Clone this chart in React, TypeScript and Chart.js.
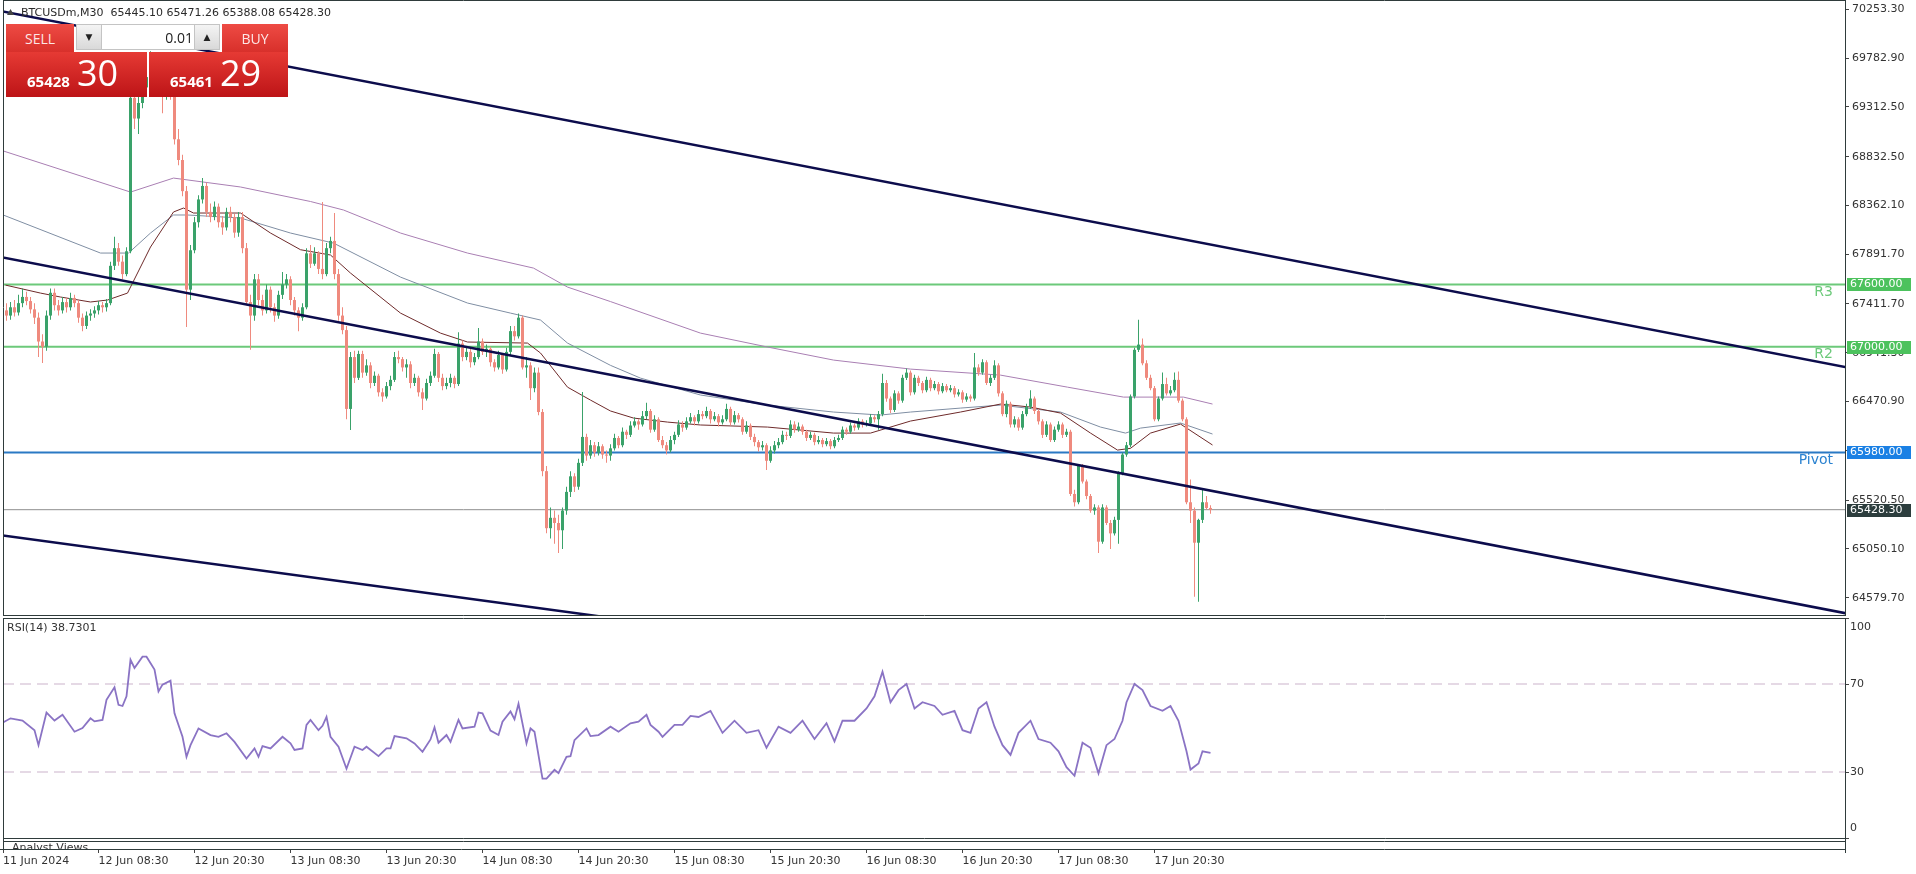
import React, { useEffect, useRef } from "react";
import { Chart, registerables } from "chart.js";

Chart.register(...registerables);
Chart.defaults.font.family = "DejaVu Sans";
Chart.defaults.font.size = 11;

// ---------------- data ----------------
const symbolTitle = "BTCUSDm,M30";
const ohlcHeader = [65445.1, 65471.26, 65388.08, 65428.3];

// [open, high, low, close] per M30 bar
const candles: number[][] = [
  [67350, 67420, 67250, 67300], [67300, 67430, 67260, 67380], [67380, 67450, 67290, 67330], [67330, 67500, 67300, 67420],
  [67420, 67560, 67380, 67480], [67480, 67530, 67400, 67440], [67440, 67480, 67320, 67360], [67360, 67420, 67220, 67280],
  [67280, 67330, 66900, 67050], [67050, 67120, 66843, 67000], [67000, 67350, 66960, 67300], [67300, 67560, 67260, 67520],
  [67520, 67560, 67350, 67400], [67400, 67450, 67300, 67350], [67350, 67480, 67320, 67430], [67430, 67470, 67330, 67380],
  [67380, 67520, 67350, 67470], [67470, 67500, 67380, 67420], [67420, 67450, 67230, 67280], [67280, 67320, 67150, 67200],
  [67200, 67340, 67170, 67300], [67300, 67360, 67250, 67320], [67320, 67390, 67280, 67350], [67350, 67440, 67310, 67400],
  [67400, 67430, 67330, 67380], [67380, 67460, 67340, 67420], [67420, 67820, 67400, 67780], [67780, 68060, 67740, 67950],
  [67950, 68000, 67780, 67820], [67820, 67880, 67650, 67700], [67700, 67960, 67680, 67920], [67920, 69550, 67900, 69400],
  [69400, 69620, 69100, 69200], [69200, 69420, 69050, 69350], [69350, 69580, 69300, 69500], [69500, 69720, 69450, 69600],
  [69600, 69850, 69550, 69750], [69750, 69800, 69600, 69680], [69680, 69720, 69480, 69550], [69550, 69600, 69250, 69450],
  [69450, 69580, 69380, 69500], [69500, 69560, 69380, 69450], [69450, 69600, 68950, 69000], [69000, 69100, 68750, 68800],
  [68800, 68850, 68450, 68500], [68500, 68550, 67190, 67550], [67550, 67980, 67450, 67930], [67930, 68250, 67900, 68200],
  [68200, 68460, 68150, 68420], [68420, 68626, 68380, 68550], [68550, 68580, 68250, 68300], [68300, 68380, 68200, 68250],
  [68250, 68400, 68220, 68350], [68350, 68380, 68150, 68200], [68200, 68260, 68080, 68150], [68150, 68340, 68120, 68300],
  [68300, 68350, 68200, 68250], [68250, 68280, 68050, 68100], [68100, 68300, 68060, 68250], [68250, 68300, 67900, 67950],
  [67950, 68000, 67400, 67430], [67430, 67500, 66970, 67300], [67300, 67700, 67250, 67650], [67650, 67700, 67400, 67450],
  [67450, 67500, 67300, 67350], [67350, 67600, 67320, 67550], [67550, 67580, 67330, 67380], [67380, 67420, 67240, 67300],
  [67300, 67540, 67270, 67500], [67500, 67720, 67460, 67600], [67600, 67700, 67560, 67650], [67650, 67680, 67400, 67450],
  [67450, 67480, 67300, 67350], [67350, 67380, 67150, 67280], [67280, 67420, 67250, 67380], [67380, 67950, 67360, 67900],
  [67900, 67980, 67760, 67800], [67800, 67960, 67780, 67900], [67900, 67920, 67700, 67750], [67750, 68395, 67650, 67700],
  [67700, 68000, 67680, 67950], [67950, 68060, 67900, 68020], [68020, 68290, 67650, 67700], [67700, 67750, 67250, 67300],
  [67300, 67380, 67120, 67160], [67160, 67200, 66300, 66400], [66400, 66950, 66196, 66900], [66900, 66960, 66650, 66700],
  [66700, 66960, 66680, 66930], [66930, 66960, 66700, 66750], [66750, 66880, 66720, 66820], [66820, 66850, 66600, 66650],
  [66650, 66760, 66620, 66720], [66720, 66740, 66520, 66560], [66560, 66600, 66470, 66520], [66520, 66660, 66500, 66620],
  [66620, 66720, 66580, 66680], [66680, 66950, 66660, 66900], [66900, 66960, 66840, 66880], [66880, 66900, 66760, 66800],
  [66800, 66880, 66700, 66830], [66830, 66860, 66600, 66650], [66650, 66740, 66620, 66700], [66700, 66720, 66520, 66560],
  [66560, 66600, 66389, 66500], [66500, 66690, 66480, 66650], [66650, 66760, 66620, 66720], [66720, 66980, 66700, 66930],
  [66930, 66950, 66660, 66700], [66700, 66740, 66580, 66620], [66620, 66700, 66590, 66650], [66650, 66740, 66610, 66700],
  [66700, 66720, 66600, 66640], [66640, 67140, 66620, 67030], [67030, 67060, 66860, 66900], [66900, 66990, 66870, 66950],
  [66950, 66980, 66800, 66850], [66850, 66940, 66820, 66900], [66900, 67180, 66880, 67050], [67050, 67080, 66920, 66950],
  [66950, 67020, 66900, 66980], [66980, 67000, 66810, 66850], [66850, 66880, 66760, 66800], [66800, 66960, 66780, 66920],
  [66920, 66940, 66740, 66780], [66780, 66990, 66760, 66950], [66950, 67200, 66920, 67150], [67150, 67200, 67060, 67100],
  [67100, 67320, 67080, 67280], [67280, 67300, 66780, 66800], [66800, 66900, 66700, 66820], [66820, 66850, 66485, 66600],
  [66600, 66800, 66560, 66750], [66750, 66800, 66340, 66370], [66370, 66400, 65750, 65800], [65800, 65850, 65200, 65250],
  [65250, 65450, 65150, 65350], [65350, 65420, 65100, 65300], [65300, 65380, 65010, 65230], [65230, 65450, 65050, 65420],
  [65420, 65650, 65380, 65600], [65600, 65800, 65550, 65750], [65750, 65780, 65600, 65650], [65650, 65920, 65620, 65880],
  [65880, 66563, 65850, 66130], [66130, 66160, 65900, 65950], [65950, 66100, 65920, 66050], [66050, 66080, 65940, 65980],
  [65980, 66080, 65950, 66040], [66040, 66060, 65920, 65960], [65960, 66000, 65880, 65950], [65950, 66060, 65900, 66020],
  [66020, 66160, 66000, 66120], [66120, 66140, 66020, 66050], [66050, 66220, 66030, 66180], [66180, 66200, 66110, 66150],
  [66150, 66280, 66130, 66240], [66240, 66320, 66220, 66280], [66280, 66300, 66200, 66250], [66250, 66380, 66230, 66330],
  [66330, 66460, 66300, 66380], [66380, 66400, 66170, 66200], [66200, 66340, 66180, 66300], [66300, 66320, 66080, 66100],
  [66100, 66140, 66020, 66050], [66050, 66080, 65960, 66000], [66000, 66140, 65980, 66100], [66100, 66180, 66060, 66150],
  [66150, 66290, 66130, 66250], [66250, 66280, 66180, 66220], [66220, 66320, 66200, 66280], [66280, 66360, 66260, 66320],
  [66320, 66340, 66240, 66280], [66280, 66390, 66260, 66350], [66350, 66380, 66300, 66330], [66330, 66420, 66310, 66380],
  [66380, 66400, 66260, 66300], [66300, 66370, 66280, 66330], [66330, 66350, 66230, 66270], [66270, 66340, 66250, 66300],
  [66300, 66450, 66280, 66400], [66400, 66420, 66240, 66270], [66270, 66380, 66250, 66340], [66340, 66360, 66270, 66300],
  [66300, 66320, 66150, 66180], [66180, 66280, 66160, 66240], [66240, 66260, 66100, 66130], [66130, 66160, 66040, 66080],
  [66080, 66100, 65990, 66030], [66030, 66090, 66000, 66050], [66050, 66070, 65810, 65900], [65900, 66040, 65880, 66000],
  [66000, 66090, 65970, 66050], [66050, 66120, 66020, 66080], [66080, 66190, 66060, 66150], [66150, 66180, 66100, 66140],
  [66140, 66290, 66120, 66250], [66250, 66280, 66170, 66200], [66200, 66270, 66180, 66230], [66230, 66250, 66150, 66180],
  [66180, 66200, 66090, 66120], [66120, 66180, 66100, 66150], [66150, 66170, 66050, 66080], [66080, 66140, 66060, 66100],
  [66100, 66120, 66030, 66060], [66060, 66120, 66040, 66090], [66090, 66110, 66010, 66040], [66040, 66130, 66020, 66100],
  [66100, 66150, 66080, 66120], [66120, 66230, 66100, 66200], [66200, 66220, 66150, 66180], [66180, 66270, 66160, 66240],
  [66240, 66260, 66190, 66220], [66220, 66310, 66200, 66280], [66280, 66300, 66220, 66250], [66250, 66290, 66230, 66260],
  [66260, 66350, 66240, 66320], [66320, 66340, 66270, 66300], [66300, 66380, 66200, 66350], [66350, 66740, 66330, 66650],
  [66650, 66680, 66470, 66500], [66500, 66520, 66360, 66390], [66390, 66580, 66370, 66550], [66550, 66570, 66450, 66480],
  [66480, 66730, 66460, 66700], [66700, 66790, 66680, 66750], [66750, 66770, 66530, 66560], [66560, 66730, 66540, 66700],
  [66700, 66720, 66620, 66650], [66650, 66670, 66550, 66580], [66580, 66710, 66560, 66680], [66680, 66700, 66570, 66600],
  [66600, 66670, 66580, 66640], [66640, 66660, 66540, 66570], [66570, 66650, 66550, 66620], [66620, 66640, 66560, 66580],
  [66580, 66630, 66560, 66600], [66600, 66620, 66510, 66540], [66540, 66590, 66520, 66560], [66560, 66580, 66460, 66490],
  [66490, 66550, 66470, 66520], [66520, 66540, 66470, 66500], [66500, 66940, 66480, 66800], [66800, 66830, 66720, 66750],
  [66750, 66880, 66730, 66850], [66850, 66870, 66630, 66650], [66650, 66730, 66620, 66700], [66700, 66870, 66680, 66820],
  [66820, 66840, 66520, 66550], [66550, 66570, 66330, 66350], [66350, 66480, 66320, 66450], [66450, 66470, 66220, 66250],
  [66250, 66330, 66220, 66300], [66300, 66320, 66190, 66220], [66220, 66380, 66200, 66350], [66350, 66450, 66330, 66420],
  [66420, 66580, 66400, 66500], [66500, 66520, 66350, 66380], [66380, 66400, 66250, 66280], [66280, 66300, 66120, 66150],
  [66150, 66280, 66130, 66250], [66250, 66270, 66080, 66100], [66100, 66230, 66080, 66200], [66200, 66280, 66180, 66250],
  [66250, 66270, 66120, 66150], [66150, 66210, 66130, 66180], [66180, 66200, 65560, 65580], [65580, 65620, 65460, 65500],
  [65500, 65870, 65480, 65850], [65850, 65870, 65680, 65700], [65700, 65720, 65530, 65560], [65560, 65580, 65400, 65420],
  [65420, 65480, 65380, 65450], [65450, 65470, 65010, 65120], [65120, 65480, 65100, 65450], [65450, 65470, 65280, 65300],
  [65300, 65330, 65050, 65200], [65200, 65360, 65180, 65330], [65330, 65800, 65100, 65780], [65780, 65980, 65760, 65960],
  [65960, 66080, 65940, 66050], [66050, 66540, 66030, 66520], [66520, 66990, 66500, 66970], [66970, 67260, 66950, 67020],
  [67020, 67080, 66820, 66840], [66840, 66870, 66680, 66700], [66700, 66730, 66580, 66600], [66600, 66620, 66280, 66300],
  [66300, 66520, 66280, 66500], [66500, 66750, 66480, 66640], [66640, 66700, 66530, 66550], [66550, 66620, 66530, 66580],
  [66580, 66750, 66560, 66680], [66680, 66760, 66460, 66480], [66480, 66500, 66280, 66300], [66300, 66320, 65480, 65500],
  [65500, 65720, 65300, 65420], [65420, 65450, 64590, 65110], [65110, 65340, 64540, 65330], [65330, 65620, 65300, 65500],
  [65500, 65560, 65430, 65445], [65445.1, 65471.26, 65388.08, 65428.3],
];

const priceTicks = [70253.3, 69782.9, 69312.5, 68832.5, 68362.1, 67891.7, 67411.7, 66941.3, 66470.9, 65995.7, 65520.5, 65050.1, 64579.7];

const timeTickIdx = [-0.875, 23, 47, 71, 95, 119, 143, 167, 191, 215, 239, 263, 287];
const timeTickLabels = [
  "11 Jun 2024", "12 Jun 08:30", "12 Jun 20:30", "13 Jun 08:30", "13 Jun 20:30", "14 Jun 08:30", "14 Jun 20:30",
  "15 Jun 08:30", "15 Jun 20:30", "16 Jun 08:30", "16 Jun 20:30", "17 Jun 08:30", "17 Jun 20:30",
];

// moving averages, sampled along the bars
const fastMAIdx = [-0.25, 8.5, 13.5, 21, 25.25, 30.25, 36, 41.75, 44.25, 46.75, 58.5, 66, 73.5, 81, 86, 98.5, 108.5, 115.25, 130.25, 133.5, 140.25, 146, 151, 156.75, 165.25, 173.5, 190.25, 206.75, 216, 226, 238.5, 248.5, 256, 263.5, 271, 277.75, 281, 286, 293.5, 301.5];
const fastMA = [67594, 67517, 67479, 67431, 67450, 67517, 67961, 68299, 68337, 68289, 68289, 68096, 67935, 67884, 67710, 67324, 67131, 67045, 67035, 66939, 66610, 66485, 66380, 66312, 66273, 66245, 66225, 66167, 66167, 66283, 66370, 66447, 66418, 66360, 66167, 66003, 66020, 66167, 66254, 66052];

const midMAIdx = [-1.5, 23.5, 30.5, 36, 41.75, 45.25, 58.5, 71, 81.75, 98.5, 115.25, 126, 133.5, 140.25, 151, 158.5, 173.5, 190.25, 206.75, 218.5, 226, 238.5, 248.5, 263.5, 273.5, 279.75, 283.5, 293.5, 301.5];
const midMA = [68280, 67903, 67903, 68096, 68270, 68270, 68241, 68096, 67999, 67671, 67421, 67324, 67257, 67035, 66820, 66697, 66534, 66437, 66370, 66341, 66370, 66408, 66437, 66370, 66225, 66167, 66215, 66264, 66158];

const slowMAIdx = [-1.5, 31, 41.75, 58.5, 76, 84.25, 98.5, 115.25, 131.75, 140.25, 151, 173.5, 190.25, 206.75, 226, 248.5, 265.25, 279.25, 294.25, 301.5];
const slowMA = [68896, 68491, 68626, 68540, 68400, 68318, 68096, 67903, 67758, 67575, 67435, 67131, 66997, 66871, 66784, 66726, 66610, 66514, 66514, 66447];

// trendlines (two anchor points each)
const trendIdx = [-2, 460];
const trendUpper = [70241, 66801];
const trendMiddle = [67868, 64428];
const trendLower = [65186, 62769];

const levelNames = ["R3", "R2", "Pivot"];
const levelPrices = [67600, 67000, 65980];
const lastPrice = 65428.3;

const rsiIdx = [-1, 1, 4, 7, 8, 10, 12, 14, 17, 19, 21, 22, 24, 25, 27, 28, 29, 30, 31, 32, 34, 35, 37, 38, 39, 41, 42, 44, 45, 46, 48, 51, 53, 55, 57, 60, 62, 63, 64, 66, 69, 71, 72, 74, 75, 76, 78, 79, 80, 81, 83, 85, 87, 89, 90, 93, 95, 96, 97, 100, 102, 104, 106, 107, 108, 110, 111, 113, 114, 117, 118, 119, 121, 123, 124, 126, 127, 128, 130, 131, 132, 134, 135, 137, 138, 140, 141, 142, 145, 146, 148, 151, 153, 156, 158, 160, 161, 163, 164, 167, 169, 171, 173, 176, 179, 182, 185, 188, 190, 193, 196, 199, 202, 205, 207, 209, 212, 215, 217, 219, 221, 223, 225, 227, 229, 232, 234, 237, 239, 241, 243, 245, 247, 249, 251, 253, 256, 258, 261, 263, 265, 267, 269, 271, 273, 275, 277, 279, 280, 282, 284, 286, 289, 291, 293, 295, 296, 298, 299, 301];
const rsiVal = [52.4, 54.4, 53.4, 49, 42.2, 57, 53.4, 56, 48.3, 50, 54.4, 53, 53.7, 62.8, 68.5, 60.5, 60, 64.4, 81, 77.3, 82.4, 82.4, 76.6, 66.6, 69.7, 71.5, 56.7, 46, 36.9, 42.2, 49.8, 46.8, 46, 47.6, 43.7, 36.1, 40.7, 36.9, 41.8, 40.7, 46, 43, 40, 40.7, 51.4, 53.7, 49, 51, 55, 46, 41.5, 31.5, 41.5, 40, 41.5, 37.2, 40.7, 40.7, 46.3, 45.3, 43, 39.2, 44.8, 50.3, 43.3, 46.8, 43.7, 53.7, 49.8, 50.6, 57, 56.7, 48.8, 46.8, 52.9, 57.5, 54, 61, 43, 49.8, 48.3, 27, 27, 31, 29.5, 36.9, 37.2, 44.5, 49.8, 46.3, 46.8, 50.6, 48.3, 52.1, 52.9, 56, 51.4, 48.3, 46, 51.4, 51.4, 55.5, 55, 57.8, 47.8, 53.3, 47.8, 49, 41, 50.6, 47.8, 53.3, 45, 52.2, 43.9, 53.3, 53.3, 58.9, 64.4, 75.6, 61.7, 67.2, 70, 58.9, 61.7, 60, 56, 57.8, 49, 47.8, 58.9, 61.7, 50.6, 42.2, 37.8, 47.8, 53.3, 45, 43.3, 39.4, 32.2, 28.3, 43.3, 41, 29.4, 42.2, 45, 53.3, 61.7, 70, 67.2, 60, 57.8, 60, 53.3, 39.4, 31.1, 33.9, 39.4, 38.73];
const rsiLevels = [70, 30];
const rsiTicks = [100, 70, 30, 0];
const rsiTitle = "RSI(14) 38.7301";

// ---------------- styling ----------------
const X_MIN = -0.875;
const X_MAX = 459.625;
const P_MIN = 64412.9;
const P_MAX = 70343.0;
const GREEN = "#3aa26a";
const RED = "#ef8a7e";
const NAVY = "#0c0c4c";
const FRAME = "#2f3b3b";
const levelLineColors = ["#6cc97a", "#6cc97a", "#2a79c4"];
const levelTextColors = ["#6cc97a", "#6cc97a", "#2a82d0"];
const levelBadgeColors = ["#4cc25d", "#4cc25d", "#1a80e4"];

const line = (idx: number[], vals: number[]) => idx.map((x, i) => ({ x, y: vals[i] }));

const mainDecor = {
  id: "mainDecor",
  afterDraw(chart: any) {
    const { ctx, chartArea: a, scales } = chart;
    const y = scales.y;
    ctx.save();
    ctx.strokeStyle = FRAME;
    ctx.lineWidth = 1;
    ctx.beginPath();
    ctx.moveTo(a.left + 0.5, a.top);
    ctx.lineTo(a.left + 0.5, a.bottom);
    ctx.moveTo(a.left, a.top + 0.5);
    ctx.lineTo(a.right, a.top + 0.5);
    ctx.moveTo(a.left, a.bottom + 0.5);
    ctx.lineTo(a.right + 1, a.bottom + 0.5);
    ctx.stroke();

    // level names
    ctx.font = '14px "DejaVu Sans"';
    ctx.textAlign = "right";
    ctx.textBaseline = "top";
    levelNames.forEach((n, i) => {
      ctx.fillStyle = levelTextColors[i];
      ctx.fillText(n, a.right - 12, y.getPixelForValue(levelPrices[i]) + 1);
    });

    // price badges
    ctx.font = '11px "DejaVu Sans"';
    ctx.textAlign = "left";
    ctx.textBaseline = "middle";
    const badge = (price: number, color: string) => {
      const py = Math.round(y.getPixelForValue(price));
      ctx.fillStyle = color;
      ctx.fillRect(a.right + 2, py - 6, 64, 13);
      ctx.fillStyle = "#ffffff";
      ctx.fillText(price.toFixed(2), a.right + 5, py + 0.5);
    };
    levelPrices.forEach((p, i) => badge(p, levelBadgeColors[i]));
    badge(lastPrice, "#2c3d3d");

    // header
    ctx.fillStyle = "#2a2a2a";
    ctx.font = '11px "DejaVu Sans"';
    ctx.fillText(`${symbolTitle}  ${ohlcHeader.map((v) => v.toFixed(2)).join(" ")}`, 21, 13);
    ctx.beginPath();
    ctx.moveTo(7, 15);
    ctx.lineTo(14, 15);
    ctx.lineTo(10.5, 9);
    ctx.closePath();
    ctx.fillStyle = "#444";
    ctx.fill();
    ctx.restore();
  },
};

const rsiDecor = {
  id: "rsiDecor",
  afterDraw(chart: any) {
    const { ctx, chartArea: a, scales } = chart;
    const y = scales.y;
    ctx.save();
    ctx.strokeStyle = FRAME;
    ctx.lineWidth = 1;
    ctx.beginPath();
    ctx.moveTo(a.left + 0.5, a.top);
    ctx.lineTo(a.left + 0.5, a.bottom + 11);
    ctx.moveTo(a.left, a.top + 0.5);
    ctx.lineTo(a.right, a.top + 0.5);
    ctx.stroke();

    ctx.font = '11px "DejaVu Sans"';
    ctx.fillStyle = "#333";
    ctx.textAlign = "left";
    ctx.textBaseline = "middle";
    ctx.fillText(rsiTitle, 7, a.top + 10);

    rsiTicks.forEach((v) => {
      let py = y.getPixelForValue(v);
      py = Math.min(Math.max(py, a.top + 9), a.bottom - 10);
      ctx.fillText(String(v), a.right + 5, py);
    });

    // "Analyst Views" strip
    const st = a.bottom + 1;
    const sb = a.bottom + 11;
    ctx.fillStyle = "#ffffff";
    ctx.fillRect(a.left + 1, st, a.right - a.left - 1, sb - st);
    ctx.beginPath();
    ctx.moveTo(a.left, st + 2.5);
    ctx.lineTo(a.right, st + 2.5);
    ctx.moveTo(0, sb + 0.5);
    ctx.lineTo(a.right + 1, sb + 0.5);
    ctx.moveTo(a.right + 0.5, a.bottom);
    ctx.lineTo(a.right + 0.5, sb + 4);
    ctx.stroke();
    ctx.save();
    ctx.beginPath();
    ctx.rect(a.left + 1, st + 3, a.right - a.left, sb - st - 3);
    ctx.clip();
    ctx.fillStyle = "#333";
    ctx.textBaseline = "top";
    ctx.fillText("Analyst Views", 12, st + 4);
    ctx.restore();
    ctx.restore();
  },
};

const noPad = (s: any) => {
  s.paddingTop = 0;
  s.paddingBottom = 0;
  s.paddingLeft = 0;
  s.paddingRight = 0;
};

export default function App() {
  const mainRef = useRef<HTMLCanvasElement>(null);
  const rsiRef = useRef<HTMLCanvasElement>(null);

  useEffect(() => {
    const colors = candles.map((c) => (c[3] >= c[0] ? GREEN : RED));
    const lvl = (p: number) => [{ x: X_MIN, y: p }, { x: X_MAX, y: p }];

    const main = new Chart(mainRef.current!, {
      type: "bar",
      data: {
        datasets: [
          { type: "line", data: line(trendIdx, trendUpper), borderColor: NAVY, borderWidth: 2.5, pointRadius: 0, order: 0 },
          { type: "line", data: line(trendIdx, trendMiddle), borderColor: NAVY, borderWidth: 2.5, pointRadius: 0, order: 0 },
          { type: "line", data: line(trendIdx, trendLower), borderColor: NAVY, borderWidth: 2.5, pointRadius: 0, order: 0 },
          {
            type: "bar", data: candles.map((c, i) => ({ x: i, y: [c[0], c[3]] })), backgroundColor: colors,
            maxBarThickness: 3, barPercentage: 1, categoryPercentage: 1, minBarLength: 1, grouped: false, inflateAmount: 0, borderWidth: 0, order: 1,
          },
          {
            type: "bar", data: candles.map((c, i) => ({ x: i, y: [c[2], c[1]] })), backgroundColor: colors,
            maxBarThickness: 1, barPercentage: 1, categoryPercentage: 1, grouped: false, inflateAmount: 0, borderWidth: 0, order: 2,
          },
          { type: "line", data: line(fastMAIdx, fastMA), borderColor: "#6e2a2a", borderWidth: 1, pointRadius: 0, order: 3 },
          { type: "line", data: line(midMAIdx, midMA), borderColor: "#7f8ea3", borderWidth: 1, pointRadius: 0, order: 3 },
          { type: "line", data: line(slowMAIdx, slowMA), borderColor: "#a97fb3", borderWidth: 1, pointRadius: 0, order: 3 },
          ...levelPrices.map((p, i) => ({ type: "line", data: lvl(p), borderColor: levelLineColors[i], borderWidth: 2, pointRadius: 0, order: 4 })),
          { type: "line", data: lvl(lastPrice), borderColor: "#8e8e8e", borderWidth: 1, pointRadius: 0, order: 4 },
        ] as any,
      },
      options: {
        animation: false,
        responsive: false,
        events: [],
        layout: { padding: { left: 3, top: 0, right: 0, bottom: 4 } },
        plugins: { legend: { display: false }, tooltip: { enabled: false } },
        scales: {
          x: { type: "linear", min: X_MIN, max: X_MAX, display: false, offset: false },
          y: {
            type: "linear",
            position: "right",
            min: P_MIN,
            max: P_MAX,
            afterBuildTicks: (s: any) => { s.ticks = priceTicks.map((v) => ({ value: v })); },
            afterFit: (s: any) => { s.width = 71; noPad(s); },
            grid: { drawOnChartArea: false, drawTicks: true, tickLength: 4, color: "#444" },
            border: { display: true, color: FRAME, width: 1 },
            ticks: { padding: 3, color: "#333", autoSkip: false, font: { family: "DejaVu Sans", size: 11 }, callback: (v: any) => Number(v).toFixed(2) },
          },
        },
      } as any,
      plugins: [mainDecor],
    });

    const rsi = new Chart(rsiRef.current!, {
      type: "line",
      data: {
        datasets: [
          { data: line(rsiIdx, rsiVal), borderColor: "#8a73c4", borderWidth: 1.8, pointRadius: 0, tension: 0 },
          ...rsiLevels.map((v) => ({ data: lvl(v), borderColor: "#cbb3cb", borderWidth: 1, borderDash: [11, 6], pointRadius: 0 })),
        ] as any,
      },
      options: {
        animation: false,
        responsive: false,
        events: [],
        layout: { padding: { left: 3, top: 1, right: 0, bottom: 0 } },
        plugins: { legend: { display: false }, tooltip: { enabled: false } },
        scales: {
          x: {
            type: "linear",
            min: X_MIN,
            max: X_MAX,
            offset: false,
            afterBuildTicks: (s: any) => { s.ticks = timeTickIdx.map((v) => ({ value: v })); },
            afterFit: (s: any) => { s.height = 36; noPad(s); },
            grid: { drawOnChartArea: false, drawTicks: true, tickLength: 15, color: "#444" },
            border: { display: true, color: FRAME, width: 1 },
            ticks: {
              autoSkip: false, maxRotation: 0, minRotation: 0, align: "start", padding: 2, color: "#333",
              font: { family: "DejaVu Sans", size: 11 },
              callback: (_v: any, i: number) => timeTickLabels[i],
            },
          },
          y: {
            type: "linear",
            position: "right",
            min: 0,
            max: 100,
            afterBuildTicks: (s: any) => { s.ticks = rsiTicks.map((v) => ({ value: v })); },
            afterFit: (s: any) => { s.width = 71; noPad(s); },
            grid: { drawOnChartArea: false, drawTicks: true, tickLength: 4, color: "#444" },
            border: { display: true, color: FRAME, width: 1 },
            ticks: { display: false },
          },
        },
      } as any,
      plugins: [rsiDecor],
    });

    return () => {
      main.destroy();
      rsi.destroy();
    };
  }, []);

  const red = "linear-gradient(#e63a34, #bd1417)";
  const btn: React.CSSProperties = {
    position: "absolute", top: 24, height: 28, background: "linear-gradient(#ee4b44, #d8302b)", color: "#fde6e6",
    font: '14px "Open Sans"', display: "flex", alignItems: "center", justifyContent: "center",
  };
  const priceBox = (left: number, width: number, small: string, big: string) => (
    <div style={{ position: "absolute", left, top: 52, width, height: 45, background: red, color: "#fff" }}>
      <span style={{ position: "absolute", left: 21, top: 22, font: 'bold 15px/15px "Open Sans"' }}>{small}</span>
      <span style={{ position: "absolute", left: 71, top: 3, font: '36px/36px "Open Sans"' }}>{big}</span>
    </div>
  );

  return (
    <div style={{ position: "fixed", left: 0, top: 0, width: 1916, height: 874, background: "#fff", overflow: "hidden" }}>
      <canvas ref={mainRef} width={1916} height={619} style={{ position: "absolute", left: 0, top: 0, width: 1916, height: 619 }} />
      <canvas ref={rsiRef} width={1916} height={257} style={{ position: "absolute", left: 0, top: 617, width: 1916, height: 257 }} />
      <div style={{ ...btn, left: 6, width: 68 }}>SELL</div>
      <div style={{ position: "absolute", left: 76, top: 24, width: 144, height: 26, border: "1px solid #c4c4c4", background: "#fff", boxSizing: "border-box" }}>
        <div style={{ position: "absolute", left: 0, top: 0, width: 24, height: 24, background: "linear-gradient(#f4f4f4, #d9d9d9)", borderRight: "1px solid #c4c4c4", font: '9px "DejaVu Sans"', display: "flex", alignItems: "center", justifyContent: "center", color: "#222" }}>▼</div>
        <div style={{ position: "absolute", right: 26, top: 0, height: 24, display: "flex", alignItems: "center", font: '14px "Open Sans"', color: "#222" }}>0.01</div>
        <div style={{ position: "absolute", right: 0, top: 0, width: 24, height: 24, background: "linear-gradient(#f4f4f4, #d9d9d9)", borderLeft: "1px solid #c4c4c4", font: '9px "DejaVu Sans"', display: "flex", alignItems: "center", justifyContent: "center", color: "#222" }}>▲</div>
      </div>
      <div style={{ ...btn, left: 222, width: 66 }}>BUY</div>
      {priceBox(6, 141, "65428", "30")}
      {priceBox(149, 139, "65461", "29")}
    </div>
  );
}
